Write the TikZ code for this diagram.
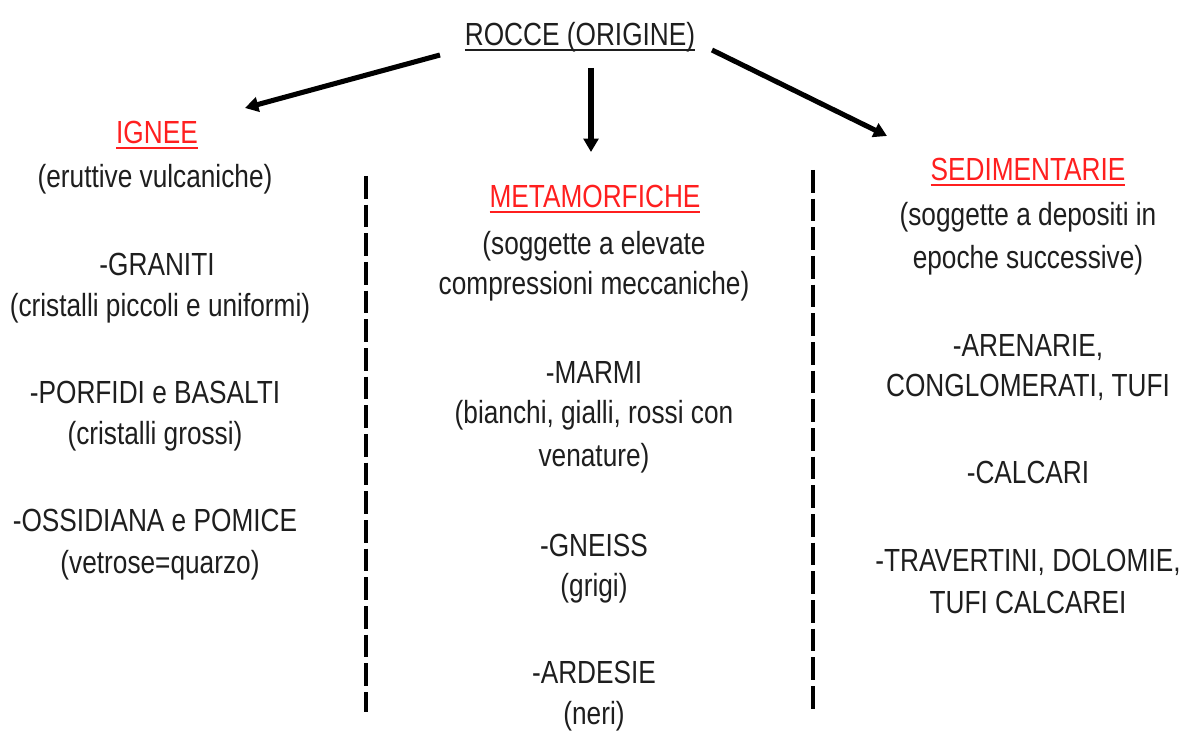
\documentclass[tikz,border=0pt]{standalone}
\usepackage{fontspec}
\setmainfont{Liberation Sans}[FakeStretch=0.82]
\newcommand\myul[1]{\setbox0\hbox{#1}\rlap{\rule[-3.5pt]{\wd0}{1.6pt}}\box0}
\usetikzlibrary{arrows.meta}
\definecolor{txt}{HTML}{1E1E1E}
\definecolor{redt}{HTML}{FF1F1F}
\begin{document}
\begin{tikzpicture}[x=0.75pt,y=-0.75pt,
  lbl/.style={anchor=base,inner sep=0pt,text=txt,font=\fontsize{24}{30}\selectfont},
  ttl/.style={lbl,text=redt},
  arr/.style={line width=3.8pt,draw=black,-{Triangle[length=10pt,width=11pt]}},
  sep/.style={line width=3pt,draw=black,dash pattern=on 17pt off 4.5pt}]
\useasboundingbox (0,0) rectangle (1186,731);
% top
\node[lbl] (rocce) at (580,46) {\myul{ROCCE (ORIGINE)}};
% left column
\node[ttl] (ignee) at (157,144) {\myul{IGNEE}};
\node[lbl] (l1) at (155,188) {(eruttive vulcaniche)};
\node[lbl] (l2) at (157,276) {-GRANITI};
\node[lbl] (l3) at (160,316) {(cristalli piccoli e uniformi)};
\node[lbl] (l4) at (155,403) {-PORFIDI e BASALTI};
\node[lbl] (l5) at (155,444) {(cristalli grossi)};
\node[lbl] (l6) at (155,531) {-OSSIDIANA e POMICE};
\node[lbl] (l7) at (160,573) {(vetrose=quarzo)};
% middle column
\node[ttl] (meta) at (595,208) {\myul{METAMORFICHE}};
\node[lbl] (m1) at (594,254) {(soggette a elevate};
\node[lbl] (m2) at (594,295) {compressioni meccaniche)};
\node[lbl] (m3) at (594,383) {-MARMI};
\node[lbl] (m4) at (594,423) {(bianchi, gialli, rossi con};
\node[lbl] (m5) at (594,466) {venature)};
\node[lbl] (m6) at (594,556) {-GNEISS};
\node[lbl] (m7) at (594,596) {(grigi)};
\node[lbl] (m8) at (594,683) {-ARDESIE};
\node[lbl] (m9) at (594,724) {(neri)};
% right column
\node[ttl] (sedi) at (1028,181) {\myul{SEDIMENTARIE}};
\node[lbl] (r1) at (1028,226) {(soggette a depositi in};
\node[lbl] (r2) at (1028,268) {epoche successive)};
\node[lbl] (r3) at (1028,356) {-ARENARIE,};
\node[lbl] (r4) at (1028,396) {CONGLOMERATI, TUFI};
\node[lbl] (r5) at (1028,483) {-CALCARI};
\node[lbl] (r6) at (1028,571) {-TRAVERTINI, DOLOMIE,};
\node[lbl] (r7) at (1028,613) {TUFI CALCAREI};
% arrows
\coordinate (aLs) at (440,55); \coordinate (aLe) at (245,108);
\coordinate (aMs) at (591,68); \coordinate (aMe) at (591,152);
\coordinate (aRs) at (712,50); \coordinate (aRe) at (887,136);
\draw[arr] (aLs) -- (aLe);
\draw[arr] (aMs) -- (aMe);
\draw[arr] (aRs) -- (aRe);
% separators
\coordinate (s1a) at (366,176); \coordinate (s1b) at (366,712);
\coordinate (s2a) at (813,170); \coordinate (s2b) at (813,712);
\draw[sep] (s1a) -- (s1b);
\draw[sep] (s2a) -- (s2b);
\end{tikzpicture}
\end{document}
